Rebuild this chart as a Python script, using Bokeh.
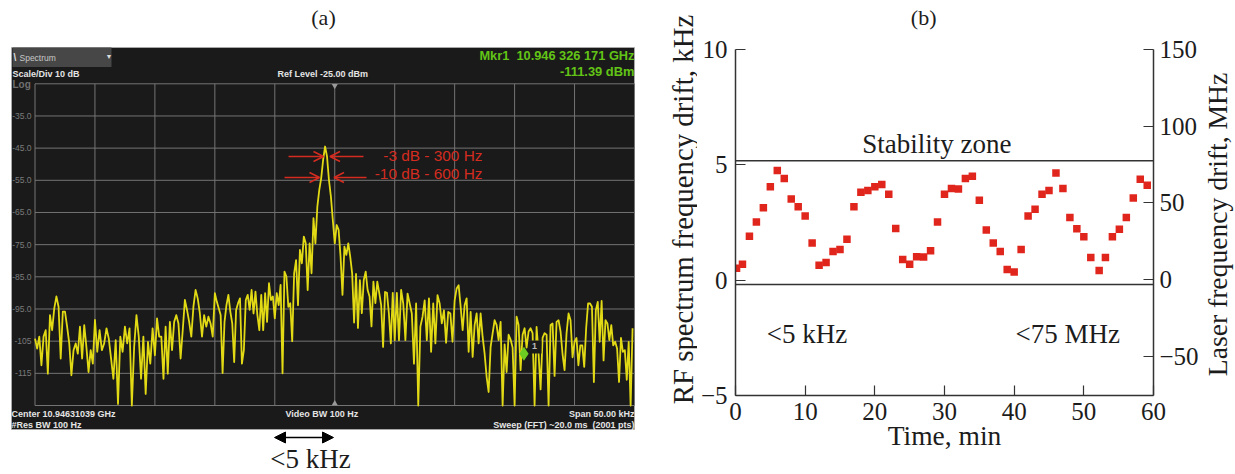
import math
import numpy as np
from bokeh.plotting import figure
from bokeh.layouts import row, column
from bokeh.models import (Label, Arrow, OpenHead, NormalHead, Span, LinearAxis, Range1d, FixedTicker)
from bokeh.embed import file_html
from bokeh.resources import INLINE

# ---------- panel (a): spectrum, dBm per 5 kHz grid division ----------
div0 = [-104.2,-107.3,-103.6,-112.5,-103.6,-101.6,-115.1,-96.9,-101.6,-94.8,-91.1,-94.3,-110.4,-95.8,-95.8,-100.5,-105.7,-115.6,-107.8,-105.7,-108.9,-100.5,-110.4,-100,-106.8,-114.6,-107.8,-112]
div1 = [-98.4,-108.3,-101.6,-107.8,-105.7,-101,-104.2,-110.4,-116.7,-104.7,-124.5,-103.6,-108.3,-100.5,-105.7,-101,-125,-106.8,-96.9,-103.6,-116.7,-103.6,-121.4,-105.2,-112,-101]
div2 = [-109.4,-97.9,-103.6,-103.6,-116.7,-100.5,-115.1,-99,-107.8,-99,-96.9,-99.5,-110.4,-101.6,-92.2,-95.3,-99,-103.6,-94.3,-89.1,-91.7,-96.4,-103.6,-96.9,-100.5,-97.4,-99.5,-103.6]
div3 = [-90.1,-92.7,-94.8,-96.9,-114.9,-99,-93.8,-90.6,-95.8,-99.5,-111.5,-95.3,-93.2,-91.7,-112,-107.8,-92.2,-90.6,-95.3,-89.1,-96.4,-89.6,-96.9,-101.6,-90.6,-101.6,-90.1,-99,-87,-92.2,-91.1]
div4 = [-97.9,-90.1,-93.8,-87.5,-115,-83.4,-84.9,-94.3,-93.2,-105,-83.9,-79.8,-93.8,-76.6,-80.8,-72.5,-74.6,-89.1,-74.6,-83.9,-66.8,-74.6,-63.2,-58,-54.3,-48.6,-44.5,-47.6,-54.9,-60,-67.3]
div5 = [-74.6,-68.9,-70.4,-78.7,-90.6,-75.6,-78.2,-74.6,-78.7,-83.9,-99.2,-84.1,-100.9,-86,-96.3,-86,-83.4,-89.1,-91.1,-100.4,-86.5,-93.2,-86.5,-90,-93.8,-106.8,-89.7,-90,-96.4,-105.7,-90]
div6 = [-104.7,-90,-104.7,-89.1,-93.3,-104.7,-90.2,-93.3,-96.4,-112,-93.3,-125,-100.5,-97.4,-92.3,-104.7,-91.7,-108.3,-93.3,-105.7,-90.7,-93.3,-99.5,-95.4,-105.5,-95.9,-96.4,-105.2]
div7 = [-92.3,-88.6,-87.6,-94.3,-101.6,-93.8,-91.7,-108.3,-95.9,-109.9,-100,-96.4,-105.7,-96.4,-103.7,-108.9,-116.1,-120.8,-106.8,-102.6,-98.5,-100,-104.7,-99,-125,-106,-114.6,-103,-104.5,-107]
div8 = [-125,-97.4,-100,-114,-103,-101,-107,-102,-101,-102.5,-125,-100.6,-109,-120,-104,-102.5,-103,-125,-100,-99.5,-115.8,-99,-98.5,-102,-109,-114,-102.5,-96.4,-98.5,-110]
div9 = [-105.2,-104,-112.5,-106.3,-106.3,-113,-101,-93.3,-93.3,-94.3,-117.7,-95.4,-92.8,-105.2,-92.5,-111,-98.5,-99.5,-104.7,-100,-106.3,-105.2,-107.3,-117.7,-104,-108.3,-107.8,-117,-105.2,-125,-101]
spectrum_divisions = [div0, div1, div2, div3, div4, div5, div6, div7, div8, div9]

grid_khz = [-25, -20, -15, -10, -5, 0, 5, 10, 15, 20, 25]
grid_dbm = [-25, -35, -45, -55, -65, -75, -85, -95, -105, -115, -125]
level_labels = ["-35.0", "-45.0", "-55.0", "-65.0", "-75.0", "-85.0", "-95.0", "-105", "-115"]
level_values = [-35, -45, -55, -65, -75, -85, -95, -105, -115]
marker_khz = [15.78]
marker_dbm = [-108.9]

# ---------- panel (b) ----------
time_min = [0.15,1,2,3,4,5,6,7,8,9,10,11,12,13,14,15,16,17,18,19,20,21,22,23,24,25,26,27,28,29,30,31,32,33,34,35,36,37,38,39,40,41,42,43,44,45,46,47,48,49,50,51,52.2,53.1,54.1,55.1,56.1,57.1,58.1,59.1]
drift_khz = [0.52,0.69,1.9,2.52,3.14,4.05,4.75,4.41,3.52,3.18,2.78,1.61,0.65,0.77,1.24,1.33,1.77,3.18,3.81,3.89,4.05,4.15,3.72,2.24,0.9,0.69,1.01,1.0,1.27,2.52,3.72,3.97,3.95,4.41,4.5,3.47,2.17,1.61,1.24,0.46,0.35,1.33,2.78,3.07,3.72,3.89,4.65,3.97,2.72,2.23,1.88,0.98,0.42,0.98,1.88,2.21,2.72,3.56,4.37,4.12]
zone_upper = 5.18
zone_lower = -0.19
x_ticks = [0, 10, 20, 30, 40, 50, 60]
left_ticks = [-5, 0, 5, 10]
right_ticks = [-50, 0, 50, 100, 150]

SERIF = "Liberation Serif"
SANS = "Liberation Sans"

# ---- panel (a) figure: the frame covers the whole panel so nothing is clipped ----
PXK = 599.5 / 50.0
PXD = 321.7 / 100.0
def ax(px):
    return -25 + (px - 34.5) / PXK
def ay(py):
    return -25 - (py - 83.3) / PXD

def bare(width, height, xr, yr):
    f = figure(width=width, height=height, output_backend="svg", toolbar_location=None,
               x_range=Range1d(*xr), y_range=Range1d(*yr),
               min_border_left=0, min_border_right=0, min_border_top=0, min_border_bottom=0,
               background_fill_color="white", border_fill_color="white", outline_line_color=None)
    f.axis.visible = False
    f.grid.visible = False
    return f

a = bare(697, 474, (ax(0), ax(697)), (ay(474), ay(0)))

def lab(fig, px, py, text, size, color, font=SANS, style="normal", align="left", alpha=1.0, angle=0):
    fig.add_layout(Label(x=ax(px), y=ay(py), text=text, text_font=font, text_font_size=f"{size}px",
                         text_color=color, text_font_style=style, text_align=align,
                         text_baseline="middle", text_alpha=alpha, angle=angle))

a.quad(left=ax(11), right=ax(634), top=ay(47), bottom=ay(429), fill_color="#1a1a1a", line_color="#b0b0b0", line_width=0.8)

GRID = "#747474"
a.segment(x0=grid_khz, x1=grid_khz, y0=[grid_dbm[0]] * 11, y1=[grid_dbm[-1]] * 11, line_color=GRID, line_width=1)
a.segment(x0=[grid_khz[0]] * 11, x1=[grid_khz[-1]] * 11, y0=grid_dbm, y1=grid_dbm, line_color=GRID, line_width=1)

freq = np.concatenate([np.linspace(g, g + 5, len(d), endpoint=False)
                       for g, d in zip(grid_khz[:-1], spectrum_divisions)])
level = np.concatenate(spectrum_divisions)
a.line(freq, level, line_color="#e2da14", line_width=1.8, line_join="round")

# spectrum tab
a.quad(left=ax(12), right=ax(111), top=ay(47), bottom=ay(66.5), fill_color="#474747", line_color=None)
a.quad(left=ax(528), right=ax(541), top=ay(340), bottom=ay(353), fill_color="#1a1a1a", line_color=None)
a.scatter(marker_khz, marker_dbm, marker="diamond", size=14, fill_color="#6ccc22", line_color=None)
a.scatter([0], [grid_dbm[0] - 0.6], marker="inverted_triangle", size=6, fill_color="#999999", line_color=None)
a.scatter([0], [grid_dbm[-1] + 0.6], marker="triangle", size=6, fill_color="#999999", line_color=None)

lab(a, 13, 57, "\\", 10, "#dddddd", style="bold")
lab(a, 19, 57, "Spectrum", 8.5, "#c8c8c8")
lab(a, 105, 56, "▼", 7, "#dddddd")
lab(a, 12, 73, "Scale/Div 10 dB", 9, "#e4e4e4", style="bold")
lab(a, 12, 84, "Log", 10, "#6f6f6f", style="bold")
lab(a, 277, 73, "Ref Level -25.00 dBm", 9, "#e4e4e4", style="bold")
lab(a, 634, 55, "Mkr1\u00a0\u00a010.946 326 171 GHz", 12.8, "#62c416", style="bold", align="right")
lab(a, 634, 71, "-111.39 dBm", 12.9, "#62c416", style="bold", align="right")
for t, v in zip(level_labels, level_values):
    lab(a, 31, 83.3 + (-25 - v) * PXD, t, 8.5, "#7a7a7a", align="right")
lab(a, 11, 413, "Center 10.94631039 GHz", 9, "#e4e4e4", style="bold")
lab(a, 11, 424, "#Res BW 100 Hz", 9, "#e4e4e4", style="bold")
lab(a, 285, 413, "Video BW 100 Hz", 9, "#e4e4e4", style="bold")
lab(a, 634, 413, "Span 50.00 kHz", 9, "#e4e4e4", style="bold", align="right")
lab(a, 634, 424, "Sweep (FFT) ~20.0 ms\u00a0\u00a0(2001 pts)", 9, "#e4e4e4", style="bold", align="right")
lab(a, 534, 345, "1", 9, "#bbbbbb", style="bold", align="center")

RED = "#d42c20"
lab(a, 482, 154.5, "-3 dB - 300 Hz", 15.4, RED, align="right")
lab(a, 482, 172.5, "-10 dB - 600 Hz", 15.4, RED, align="right")
for x0, x1, y in [(288, 323, 156), (284, 319, 177), (363, 329.5, 156), (366, 333.5, 177)]:
    a.add_layout(Arrow(x_start=ax(x0), y_start=ay(y), x_end=ax(x1), y_end=ay(y), line_color=RED, line_width=1.6,
                       end=OpenHead(size=10, line_color=RED, line_width=1.6)))

a.add_layout(Arrow(x_start=ax(274), y_start=ay(437), x_end=ax(333), y_end=ay(437), line_color="black", line_width=1.6,
                   start=NormalHead(size=11, fill_color="black", line_color="black"),
                   end=NormalHead(size=11, fill_color="black", line_color="black")))
lab(a, 310, 458, "<5 kHz", 27, "#1c1c1c", font=SERIF, align="center")
lab(a, 323, 17, "(a)", 22, "#1c1c1c", font=SERIF, align="center")
# left axis title of panel (b) lies in this strip, so that it can run above the plot's canvas
lab(a, 682, 209, "RF spectrum frequency drift, kHz", 28.8, "#1c1c1c", font=SERIF, align="center", angle=math.pi / 2)

# ---- panel (b): heading strip, plot, and a strip for the right-hand axis title ----
c = bare(504, 30, (735, 1157), (30, 0))
c.add_layout(Label(x=925, y=17, text="(b)", text_font=SERIF, text_font_size="22px", text_color="#1c1c1c",
                   text_align="center", text_baseline="middle"))

d = bare(34, 474, (0, 34), (474, 0))
d.add_layout(Label(x=16, y=224, text="Laser frequency drift, MHz", angle=math.pi / 2, text_font=SERIF,
                   text_font_size="27.6px", text_color="#1c1c1c", text_align="center", text_baseline="middle"))

AX = "#333333"
b = figure(width=504, height=444, output_backend="svg", toolbar_location=None,
           x_range=Range1d(0, 60), y_range=Range1d(-5, 10),
           min_border_left=38, min_border_right=44, min_border_top=19, min_border_bottom=79,
           outline_line_color=None, border_fill_color="white", background_fill_color="white",
           x_axis_label="Time, min")
b.grid.visible = False
b.extra_y_ranges = {"laser": Range1d(-75.5, 150)}
right = LinearAxis(y_range_name="laser")
b.add_layout(right, "right")

b.xaxis.ticker = FixedTicker(ticks=x_ticks)
b.yaxis[0].ticker = FixedTicker(ticks=left_ticks)
right.ticker = FixedTicker(ticks=right_ticks)
for axis in [b.xaxis[0], b.yaxis[0], right]:
    axis.major_tick_in = 10
    axis.major_tick_out = 0
    axis.minor_tick_in = 0
    axis.minor_tick_out = 0
    axis.axis_line_color = AX
    axis.axis_line_width = 1.5
    axis.major_tick_line_color = AX
    axis.major_tick_line_width = 1.2
    axis.major_label_text_font = SERIF
    axis.major_label_text_font_size = "25px"
    axis.major_label_text_color = "#1c1c1c"
    axis.axis_label_text_font = SERIF
    axis.axis_label_text_font_size = "27.5px"
    axis.axis_label_text_font_style = "normal"
    axis.axis_label_text_color = "#1c1c1c"
b.xaxis[0].major_label_standoff = 7
b.xaxis[0].axis_label_standoff = -3
b.yaxis[0].major_label_standoff = 8
right.major_label_standoff = 6

for v in [zone_upper, zone_lower]:
    b.add_layout(Span(location=v, dimension="width", line_color=AX, line_width=1.5))
b.scatter(time_min, drift_khz, marker="square", size=7.5, fill_color="#e0261c", line_color=None)

def blab(t, y, text, size=27, align="center"):
    b.add_layout(Label(x=t, y=y, text=text, text_font=SERIF, text_font_size=f"{size}px", text_color="#1c1c1c",
                       text_align=align, text_baseline="middle"))
blab(28.9, 5.9, "Stability zone")
blab(4.5, -2.33, "<5 kHz", align="left")
blab(40.2, -2.33, "<75 MHz", align="left")

page = row(column(a), column(c, b, spacing=0), column(d), spacing=0)
open("out.html", "w").write(file_html(page, INLINE))
